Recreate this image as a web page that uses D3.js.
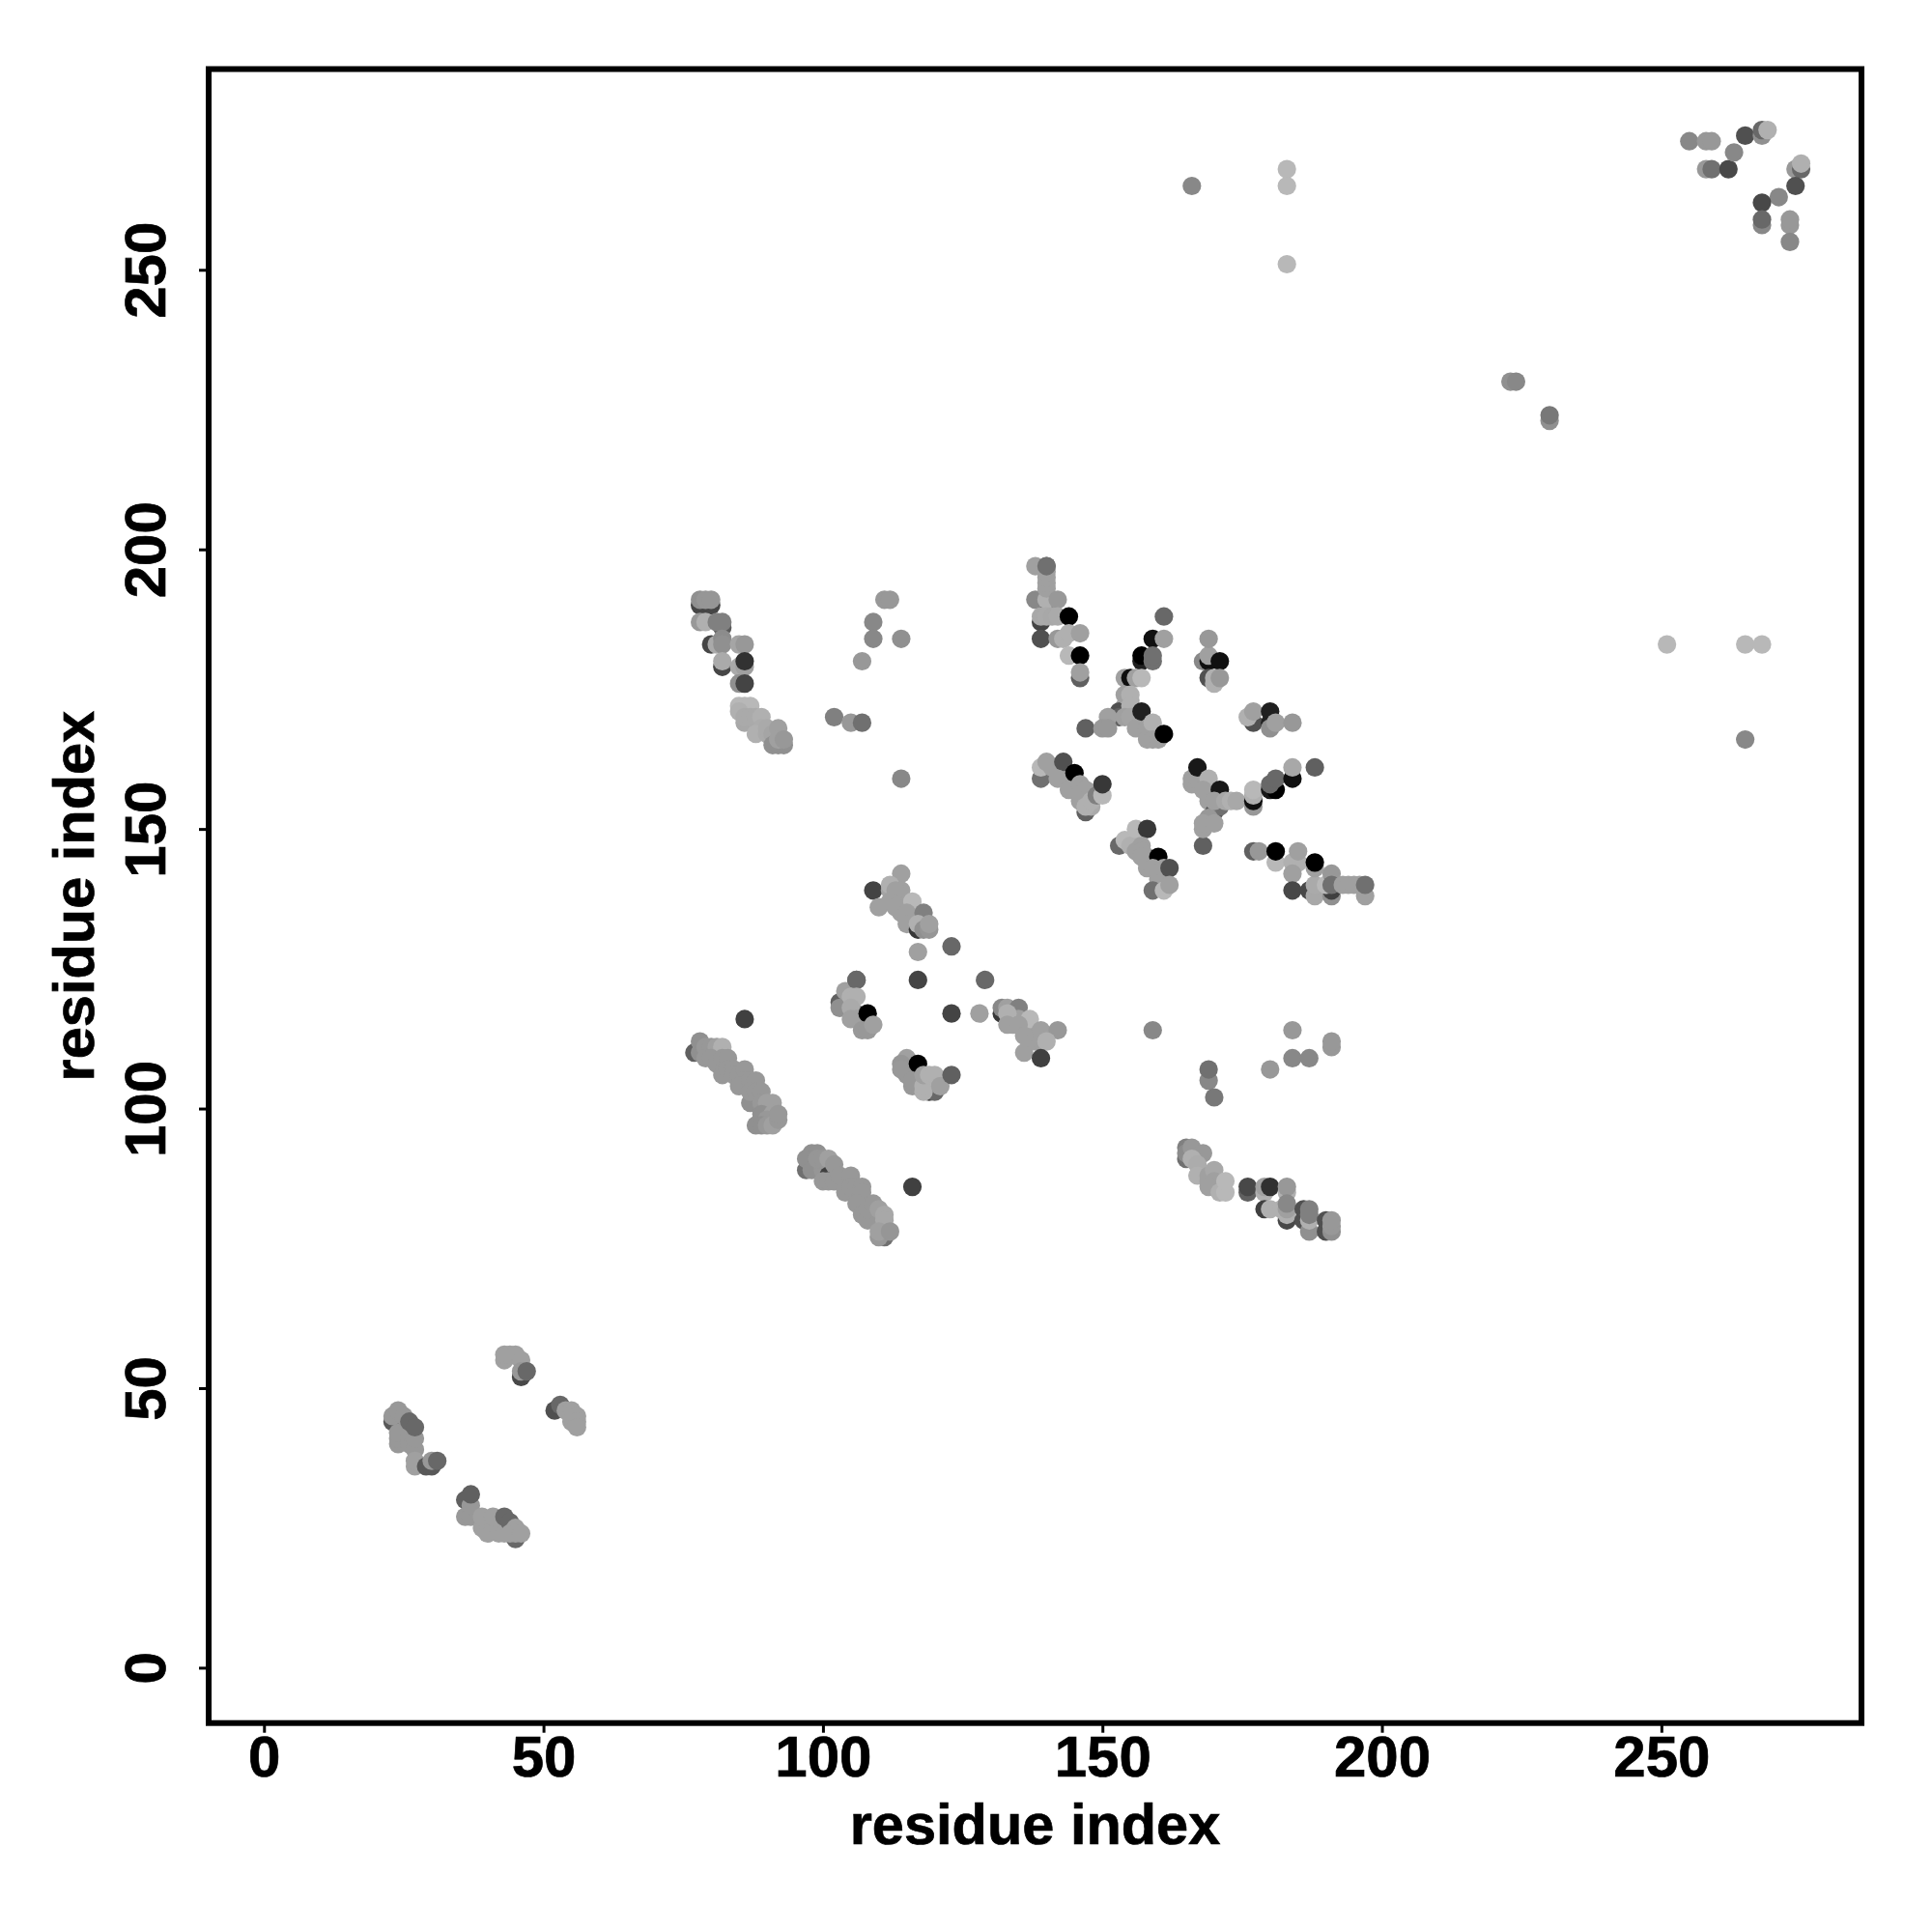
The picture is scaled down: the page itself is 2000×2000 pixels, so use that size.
<!DOCTYPE html>
<html><head><meta charset="utf-8">
<script src="https://cdn.jsdelivr.net/npm/d3@7/dist/d3.min.js"></script>
<style>html,body{margin:0;padding:0;background:#fff}svg{display:block}</style>
</head><body><svg id="c" width="2000" height="2000"></svg>
<script>
// each contact: [residue i, residue j, grey level of the mark]
const strandA=[[78,190,70],[79,190,70],[80,190,70],[78,191,144],[79,191,150],[80,191,150],[78,187,152],[79,187,176],[82,186,90],[81,187,128],[82,187,128],[80,183,70],[81,183,170],[82,184,140],[82,183,144],[85,183,165],[86,183,152],[82,179,70],[82,180,170],[85,179,170],[86,179,160],[86,180,50],[85,176,144],[86,176,68]];
const strandB=[[85,172,184],[86,172,184],[87,172,184],[85,171,176],[86,169,168],[88,169,168],[86,170,170],[87,170,170],[88,170,170],[89,170,176],[89,168,172],[88,167,176],[90,167,170],[90,168,170],[91,167,165],[92,168,160],[91,165,144],[92,165,144],[93,165,144],[92,166,160],[93,166,152]];
const topMid=[[111,191,152],[112,191,152],[109,187,136],[109,184,136],[114,184,144],[107,180,152],[102,170,128],[105,169,152],[107,169,112],[114,159,136]];
const stack1=[[140,190,112],[139,191,64],[138,191,136],[140,197,112],[138,197,160],[140,191,176],[140,193,160],[140,194,160],[140,195,160],[140,196,160],[142,191,152],[139,187,68],[139,184,80],[139,188,168],[140,188,170],[141,188,168],[142,188,170],[144,188,0],[142,184,152],[143,184,176],[144,185,176],[146,185,160],[144,181,184],[146,181,0],[146,177,96],[146,178,160]];
const stack1top=[[140,197,112]];
const cross1=[[155,173,170],[155,171,165],[154,172,165],[156,170,160],[157,169,160],[157,168,160],[161,188,104],[159,184,16],[161,184,160],[157,180,32],[157,181,0],[159,180,112],[159,181,112],[154,177,160],[155,177,16],[156,177,160],[157,177,184],[153,171,80],[153,170,96],[147,168,96],[151,170,160],[150,168,152],[151,168,152],[154,174,160],[155,174,176],[155,172,176],[154,170,160],[155,170,164],[156,168,160],[157,171,32],[158,168,160],[159,169,176],[158,166,160],[159,166,160],[160,166,160],[161,167,0]];
const patch169=[[168,180,136],[169,180,16],[169,181,160],[169,184,152],[171,180,16],[169,177,80],[170,176,176],[170,177,176],[171,177,152]];
const patch177=[[177,169,80],[176,170,176],[177,171,160],[180,169,32],[180,168,144],[180,171,32],[181,169,160],[184,169,152]];
const patch139=[[143,160,160],[143,159,160],[144,159,160],[144,158,160],[145,158,160],[145,157,160],[146,156,160],[147,156,165],[148,156,165],[139,159,112],[139,161,184],[140,162,160],[141,161,160],[143,162,80],[142,159,160],[145,160,0],[144,157,160],[146,158,160],[147,157,160],[146,155,160],[147,153,96],[148,154,170],[147,154,176],[148,155,176],[149,156,128],[150,156,184],[150,158,56]];
const patch153=[[156,147,165],[158,145,160],[158,144,160],[159,144,160],[158,143,160],[160,143,160],[160,142,160],[161,141,160],[153,147,104],[154,148,184],[155,147,176],[156,150,184],[158,150,56],[156,146,160],[157,147,160],[157,146,160],[157,145,160],[160,145,0],[159,143,160],[160,141,160],[159,139,112],[161,139,184],[161,143,160],[162,143,80],[162,140,160]];
const patch166=[[167,158,160],[168,159,160],[168,158,160],[169,157,160],[169,156,160],[169,155,160],[170,156,160],[171,155,160],[171,156,160],[166,158,160],[166,159,160],[167,159,160],[167,161,24],[169,159,176],[168,157,160],[171,157,24],[170,153,80],[171,154,112],[169,152,152],[170,155,160],[172,155,168],[173,155,176],[174,155,168],[168,147,96],[168,150,160],[168,151,160],[170,151,160],[177,154,152],[177,155,16],[177,156,176],[177,157,184],[180,157,24],[181,157,0],[180,158,104],[181,159,104],[184,159,16],[184,161,168],[188,161,96]];
const patch177b=[[177,146,96],[178,146,152],[181,144,184],[181,146,0],[184,144,176],[185,144,176],[185,146,160],[184,142,160],[184,139,72],[187,139,72],[188,138,168],[188,140,170],[188,143,160],[188,144,0],[191,138,144],[191,139,64],[190,140,184],[191,142,152],[191,140,112],[193,140,160],[194,140,160],[195,140,160],[196,140,160],[197,138,160],[197,140,112]];
const helix78=[[77,110,96],[78,110,144],[78,112,144],[79,111,152],[80,111,152],[81,111,160],[82,111,176],[79,109,152],[80,109,152],[82,107,64],[81,108,152],[82,109,152],[83,109,152],[82,106,152],[83,107,152],[84,107,152],[84,106,152],[85,106,152],[86,107,152],[86,105,152],[85,104,152],[87,105,152],[88,105,152],[88,101,64],[89,98,64],[87,101,144],[87,103,152],[88,103,152],[89,103,152],[89,101,152],[90,101,160],[91,101,160],[88,97,144],[89,99,144],[91,99,160],[90,98,152],[89,97,144],[90,97,152],[91,97,160],[92,98,152],[92,99,152]];
const helix97=[[97,89,112],[97,91,144],[98,91,144],[98,92,144],[99,92,144],[99,90,64],[98,89,144],[100,89,150],[99,91,150],[100,91,150],[101,91,160],[101,88,64],[100,87,152],[101,87,152],[102,90,152],[102,87,152],[103,88,152],[105,88,152],[104,85,152],[105,86,152],[106,86,152],[107,86,152],[107,85,152],[107,82,64],[106,83,152],[107,81,152],[108,80,152],[108,82,152],[109,83,152],[110,82,160],[111,81,168],[111,80,168],[111,77,112],[110,77,152],[110,78,160],[112,78,150]];
const loose=[[109,139,68],[117,128,160],[123,129,104],[117,123,68],[129,123,104],[106,123,104],[86,116,64],[116,86,64],[123,117,68],[128,117,160],[159,114,136],[169,105,136],[169,107,112],[170,102,120],[180,107,152],[184,114,152],[184,109,136],[187,109,136],[191,111,152],[191,112,152]];
const sheet110=[[114,142,160],[110,136,160],[112,139,165],[113,138,160],[114,139,160],[113,137,160],[114,136,160],[115,136,160],[114,135,160],[116,135,160],[116,134,160],[115,134,160],[116,133,160],[112,140,176],[113,139,160],[112,137,160],[113,136,160],[116,137,184],[115,135,160],[115,133,160],[117,132,56],[118,135,128],[117,133,176],[118,132,144],[119,132,150],[119,133,160]];
const sheet103=[[104,119,165],[104,118,160],[105,117,160],[106,117,160],[107,116,160],[107,115,160],[103,119,96],[103,118,144],[104,121,160],[106,123,104],[105,120,176],[106,120,176],[105,118,170],[105,116,160],[106,116,160],[108,117,0],[107,114,152],[108,114,152],[109,115,160]];
const sheet114=[[115,107,152],[115,106,152],[116,107,152],[116,106,152],[117,106,152],[117,105,152],[116,104,152],[117,104,152],[115,109,160],[114,108,150],[114,107,152],[117,108,0],[116,105,152],[119,103,64],[120,103,104],[118,103,176],[118,104,176],[118,106,160],[119,106,176],[120,106,176],[121,104,160],[123,106,96]];
const sheet132=[[132,117,56],[132,118,136],[133,118,160],[135,118,128],[134,116,160],[134,115,160],[135,116,160],[136,115,160],[136,114,160],[137,114,160],[137,113,160],[138,113,160],[137,112,160],[133,117,176],[137,116,184],[133,115,160],[135,115,160],[136,113,160],[136,110,160],[138,112,160],[139,112,160],[139,114,160],[142,114,152],[140,112,176],[139,109,64]];
const sheet165=[[165,91,112],[165,93,128],[165,92,140],[166,93,152],[168,92,152],[166,91,176],[167,90,172],[167,88,176],[169,88,160],[169,87,160],[170,89,168],[170,87,160],[169,86,160],[171,85,176],[172,85,184],[172,87,184]];
const sheet176=[[176,85,96],[176,86,72],[179,85,176],[179,86,160],[180,86,48],[183,85,176],[183,86,152],[179,82,64],[180,82,176],[183,80,72],[182,82,176],[183,81,176],[183,82,160],[183,83,136],[186,80,80],[186,82,80],[187,78,144],[187,80,176],[187,81,128],[187,82,128],[190,78,80],[190,80,80],[191,78,144],[191,79,152],[191,80,152]];
const low24=[[23,44,88],[23,45,152],[24,46,152],[25,45,152],[24,40,152],[24,41,152],[24,42,152],[26,40,152],[26,42,152],[27,39,152],[27,41,152],[26,44,104],[27,43,104],[27,36,160],[27,37,160],[29,36,88],[30,36,88],[30,37,152],[31,37,104]];
const low36=[[36,30,96],[36,27,152],[37,27,152],[37,29,152],[37,31,96],[39,25,160],[39,27,160],[40,24,160],[41,25,160],[41,27,160],[42,24,160],[43,24,160],[43,27,104],[44,26,104],[45,23,104],[44,24,160],[45,25,160],[45,24,160],[46,24,160]];
const low43=[[43,55,160],[43,56,160],[44,56,160],[45,56,160],[46,55,160],[46,52,72],[46,53,152],[47,53,104]];
const low52=[[52,46,80],[53,47,104],[54,46,160],[55,46,160],[55,45,160],[56,45,160],[55,44,160],[56,44,160],[56,43,160]];
const upperRight=[[255,273,136],[258,273,152],[259,273,152],[258,268,152],[259,268,112],[262,268,72],[263,271,136],[265,274,80],[268,274,144],[268,275,104],[269,275,176],[274,268,152],[275,268,104],[275,269,176],[274,265,80],[271,263,136],[268,262,72],[268,258,136],[268,259,104],[273,258,152],[273,259,152],[273,255,136]];
const farOff=[[183,268,184],[183,265,184],[183,251,184],[166,265,136],[223,230,144],[224,230,136],[230,223,144],[230,224,120],[251,183,184],[265,183,184],[268,183,184],[265,166,136]];
const tickValues=[0,50,100,150,200,250];
const axisTitle="residue index";

const contacts=[].concat(strandA,strandB,topMid,stack1,stack1top,cross1,patch169,patch177,patch139,patch153,patch166,patch177b,helix78,helix97,loose,sheet110,sheet103,sheet114,sheet132,sheet165,sheet176,low24,low36,low43,low52,upperRight,farOff);

const svg=d3.select("#c");
const x=d3.scaleLinear().domain([-9.9,285.8]).range([216,1927]);
const y=d3.scaleLinear().domain([-9.9,285.9]).range([1783.7,71.5]);
const grey=v=>d3.rgb(v,v,v);

svg.append("rect").attr("width",2000).attr("height",2000).attr("fill","#fff");
svg.append("g").selectAll("circle").data(contacts).join("circle")
  .attr("cx",d=>x(d[0])).attr("cy",d=>y(d[1])).attr("r",9.6).attr("fill",d=>grey(d[2]));

const font='"Liberation Sans",Arial,sans-serif';
const ax=svg.append("g").attr("transform","translate(0,1783.7)")
  .call(d3.axisBottom(x).tickValues(tickValues).tickSize(10).tickPadding(0).tickSizeOuter(0));
const ay=svg.append("g").attr("transform","translate(216,0)")
  .call(d3.axisLeft(y).tickValues(tickValues).tickSize(10).tickPadding(0).tickSizeOuter(0));
[ax,ay].forEach(g=>{g.select(".domain").remove();
  g.selectAll("line").attr("stroke","#000").attr("stroke-width",3);
  g.selectAll("text").attr("font-family",font).attr("font-weight","bold").attr("font-size",60).attr("fill","#000")
    .attr("stroke","#000").attr("stroke-width",0.7);});
ax.selectAll("text").attr("dy",null).attr("y",55.5).attr("text-anchor","middle");
ay.selectAll("text").attr("dy",null).attr("x",null).attr("text-anchor","middle")
  .attr("transform","translate(-45,0) rotate(-90)");

svg.append("rect").attr("x",216).attr("y",71.5).attr("width",1711).attr("height",1712.2)
  .attr("fill","none").attr("stroke","#000").attr("stroke-width",6);

svg.append("text").attr("x",1071.5).attr("y",1909).attr("text-anchor","middle")
  .attr("font-family",font).attr("font-weight","bold").attr("font-size",59.5).attr("stroke","#000").attr("stroke-width",0.7).text(axisTitle);
svg.append("text").attr("transform","translate(97,927.6) rotate(-90)").attr("text-anchor","middle")
  .attr("font-family",font).attr("font-weight","bold").attr("font-size",59.5).attr("stroke","#000").attr("stroke-width",0.7).text(axisTitle);
</script></body></html>
